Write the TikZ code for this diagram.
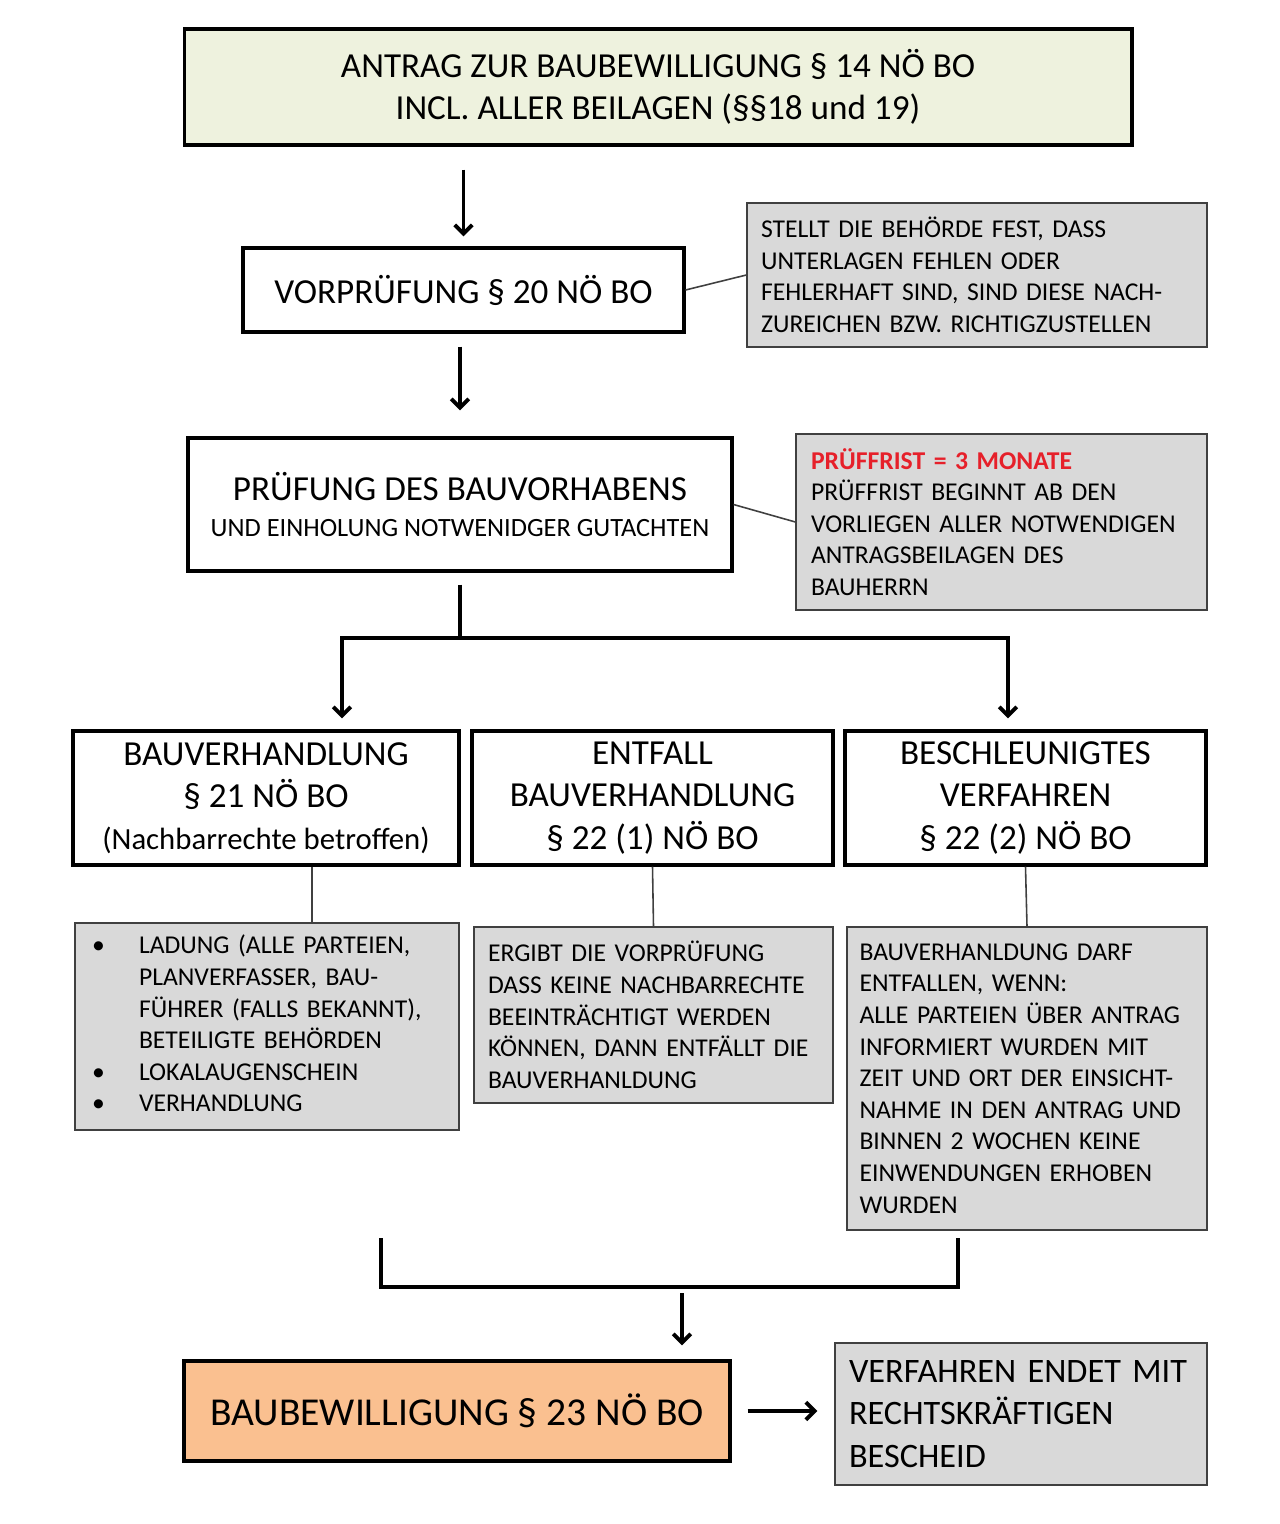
\documentclass[tikz,border=0pt]{standalone}
\usepackage{fontspec}
\setmainfont{Carlito}
\usetikzlibrary{arrows.meta,calc}

\definecolor{antraggreen}{RGB}{238,242,222}
\definecolor{notegray}{RGB}{217,217,217}
\definecolor{bescheidorange}{RGB}{250,192,144}
\definecolor{fristred}{RGB}{230,32,42}

\newcommand{\bigfont}{\fontsize{20pt}{24pt}\selectfont}
\newcommand{\midfont}{\fontsize{15pt}{18pt}\selectfont}
\newcommand{\notefont}{\fontsize{14.6pt}{18pt}\selectfont}
\newcommand{\bescheidfont}{\fontsize{22.5pt}{24pt}\selectfont}
\newcommand{\resultfont}{\fontsize{19.5pt}{24pt}\selectfont}

\begin{document}
\begin{tikzpicture}[
  x=0.02cm, y=-0.02cm,
  mainbox/.style={draw, line width=1.8pt, fill=white, align=center, inner sep=0pt, font=\bigfont},
  notebox/.style={draw=black!75, line width=0.8pt, fill=notegray, align=left, inner ysep=0pt, font=\notefont},
  arr/.style={line width=2.2pt, -{Straight Barb[length=5pt,width=10pt]}},
  link/.style={line width=0.9pt, black!75}
]
  \useasboundingbox (0,0) rectangle (1280,1524);

  % Antrag und Vorpruefung
  \node[mainbox, fill=antraggreen, minimum width=18.96cm, minimum height=2.32cm] (antrag) at (658,87)
    {ANTRAG ZUR BAUBEWILLIGUNG § 14 NÖ BO\\INCL. ALLER BEILAGEN (§§18 und 19)};
  \node[mainbox, minimum width=8.82cm, minimum height=1.68cm] (vorp) at (463.5,290)
    {VORPRÜFUNG § 20 NÖ BO};
  \node[notebox, text width=8.64cm, inner xsep=0.28cm, minimum height=2.88cm] (fehlen) at (977,275)
    {STELLT DIE BEHÖRDE FEST, DASS\\UNTERLAGEN FEHLEN ODER\\FEHLERHAFT SIND, SIND DIESE NACH-\\ZUREICHEN BZW. RICHTIGZUSTELLEN};

  % Pruefung
  \node[mainbox, minimum width=10.88cm, minimum height=2.66cm] (pruef) at (460,504.5)
    {PRÜFUNG DES BAUVORHABENS\\[-3pt]{\midfont UND EINHOLUNG NOTWENIDGER GUTACHTEN}};
  \node[notebox, text width=7.62cm, inner xsep=0.3cm, minimum height=3.52cm] (frist) at (1001.5,522)
    {{\bfseries\color{fristred}PRÜFFRIST = 3 MONATE}\\PRÜFFRIST BEGINNT AB DEN\\VORLIEGEN ALLER NOTWENDIGEN\\ANTRAGSBEILAGEN DES\\BAUHERRN};

  % drei Verfahrensarten
  \node[mainbox, minimum width=7.72cm, minimum height=2.68cm] (bauv) at (266,798)
    {BAUVERHANDLUNG\\§ 21 NÖ BO\\{\fontsize{17.5pt}{24pt}\selectfont (Nachbarrechte betroffen)}};
  \node[mainbox, minimum width=7.22cm, minimum height=2.68cm] (entfall) at (652.5,798)
    {ENTFALL\\BAUVERHANDLUNG\\§ 22 (1) NÖ BO};
  \node[mainbox, minimum width=7.22cm, minimum height=2.68cm] (beschl) at (1025.5,798)
    {BESCHLEUNIGTES\\VERFAHREN\\§ 22 (2) NÖ BO};

  \node[notebox, text width=7.0cm, inner xsep=0.34cm, minimum height=4.14cm] (ladung) at (267,1026.5)
    {\begin{tabular}{@{}p{0.94cm}@{}l@{}}
      \textbullet & LADUNG (ALLE PARTEIEN,\\
                  & PLANVERFASSER, BAU-\\
                  & FÜHRER (FALLS BEKANNT),\\
                  & BETEILIGTE BEHÖRDEN\\
      \textbullet & LOKALAUGENSCHEIN\\
      \textbullet & VERHANDLUNG
    \end{tabular}};
  \node[notebox, text width=6.62cm, inner xsep=0.28cm, minimum height=3.52cm] (ergibt) at (653.5,1015)
    {ERGIBT DIE VORPRÜFUNG\\DASS KEINE NACHBARRECHTE\\BEEINTRÄCHTIGT WERDEN\\KÖNNEN, DANN ENTFÄLLT DIE\\BAUVERHANLDUNG};
  \node[notebox, text width=6.7cm, inner xsep=0.25cm, minimum height=6.06cm] (darf) at (1027,1078.5)
    {BAUVERHANLDUNG DARF\\ENTFALLEN, WENN:\\ALLE PARTEIEN ÜBER ANTRAG\\INFORMIERT WURDEN MIT\\ZEIT UND ORT DER EINSICHT-\\NAHME IN DEN ANTRAG UND\\BINNEN 2 WOCHEN KEINE\\EINWENDUNGEN ERHOBEN\\WURDEN};

  % Bescheid
  \node[mainbox, fill=bescheidorange, minimum width=10.92cm, minimum height=2cm, font=\bescheidfont] (bewill) at (457,1411)
    {BAUBEWILLIGUNG § 23 NÖ BO};
  \node[notebox, text width=6.88cm, inner xsep=0.28cm, minimum height=2.84cm, font=\resultfont] (endet) at (1021,1414)
    {VERFAHREN ENDET MIT\\RECHTSKRÄFTIGEN\\BESCHEID};

  \coordinate (fork)   at (460,638);
  \coordinate (forkL)  at (342,638);
  \coordinate (forkR)  at (1008,638);
  \coordinate (joinL)  at (381,1238);
  \coordinate (joinR)  at (958,1238);
  \coordinate (joinM)  at (682,1287);

  \draw[arr, shorten <=0.46cm, shorten >=0.2cm] (vorp.north |- antrag.south) -- (vorp.north);
  \draw[arr, shorten <=0.26cm, shorten >=0.52cm] (pruef.north |- vorp.south) -- (pruef.north);
  \draw[link] (vorp.east) -- (fehlen.west);
  \draw[link] (pruef.east) -- (frist.west);

  % Verzweigung
  \draw[line width=2.2pt, shorten <=0.24cm] (pruef.south) -- (fork);
  \draw[line width=2.2pt, {Straight Barb[length=5pt,width=10pt]}-{Straight Barb[length=5pt,width=10pt]},
        shorten <=0.22cm, shorten >=0.22cm]
    (forkL |- bauv.north) -- (forkL) -- (forkR) -- (forkR |- beschl.north);

  \draw[link] ([xshift=0.92cm]bauv.south) -- ([xshift=0.92cm]bauv.south |- ladung.north);
  \draw[link] (entfall.south) -- (ergibt.north);
  \draw[link] (beschl.south) -- (darf.north);

  % Zusammenfuehrung
  \draw[line width=2.2pt] (joinL) -- (joinL |- joinM) -- (joinR |- joinM) -- (joinR);
  \draw[arr, shorten <=0.12cm, shorten >=0.28cm] (joinM) -- (joinM |- bewill.north);
  \draw[arr, shorten <=0.32cm, shorten >=0.34cm] (bewill.east) -- (bewill.east -| endet.west);
\end{tikzpicture}
\end{document}
